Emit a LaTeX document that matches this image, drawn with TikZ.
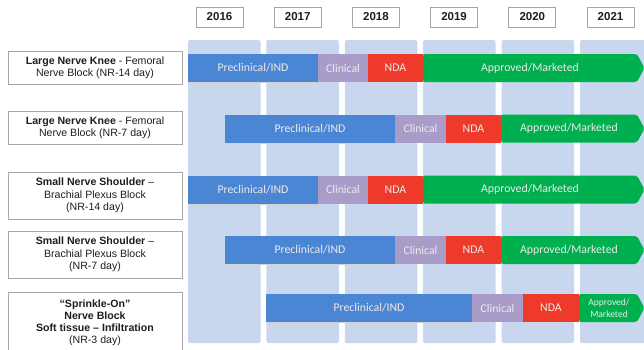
\documentclass[tikz,border=0pt]{standalone}
\usepackage{fontspec}
\setmainfont{Liberation Sans}
\newfontfamily\barfont{Carlito}
\definecolor{colbg}{HTML}{C8D7EE}
\definecolor{prebl}{HTML}{4A86D3}
\definecolor{clin}{HTML}{A99CC9}
\definecolor{nda}{HTML}{EE3A2B}
\definecolor{appr}{HTML}{00B04F}
\definecolor{boxline}{HTML}{A6A6A6}
\definecolor{labtxt}{HTML}{1E1E1E}
\begin{document}
\begin{tikzpicture}[x=1bp,y=-1bp,
  yearbox/.style={draw=boxline,line width=0.7bp,fill=white,minimum width=47bp,minimum height=20bp,inner sep=0pt,font=\fontsize{11.5bp}{13bp}\selectfont\bfseries,text=labtxt},
  labbox/.style={draw=boxline,line width=0.7bp,fill=white,inner sep=0pt,align=center,font=\fontsize{10.6bp}{12.4bp}\selectfont,text=labtxt},
  colband/.style={fill=colbg,rounded corners=1.5bp},
  bartxt/.style={inner sep=0pt,text=white!92!black,align=center,font=\barfont\fontsize{11.8bp}{13bp}\selectfont},
  shadowed/.style={preaction={fill=black!18,transform canvas={xshift=0.8bp,yshift=-1.2bp}}}
]
\useasboundingbox (0,0) rectangle (644,349);
% columns
\foreach \i in {0,...,5}{
  \fill[colband] ({188+78.4*\i},40) rectangle ({188+78.4*\i+72.5},343);
}
% year boxes
\foreach \yr [count=\i from 0] in {2016,2017,2018,2019,2020,2021}{
  \node[yearbox] (y\yr) at ({219.5+78.2*\i},17) {\yr};
}
% label boxes
\node[labbox,minimum width=174bp,minimum height=33bp] (l1) at (95,67.5)
 {\textbf{Large Nerve Knee} - Femoral\\Nerve Block (NR-14 day)};
\node[labbox,minimum width=174bp,minimum height=33bp] (l2) at (95,127.5)
 {\textbf{Large Nerve Knee} - Femoral\\Nerve Block (NR-7 day)};
\node[labbox,minimum width=174bp,minimum height=47bp] (l3) at (95,195.5)
 {\textbf{Small Nerve Shoulder} –\\Brachial Plexus Block\\(NR-14 day)};
\node[labbox,minimum width=174bp,minimum height=47bp] (l4) at (95,254.5)
 {\textbf{Small Nerve Shoulder} –\\Brachial Plexus Block\\(NR-7 day)};
\draw[draw=boxline,line width=0.7bp,fill=white] (8,352) -- (8,292) -- (182,292) -- (182,352);
\node[inner sep=0pt,align=center,font=\fontsize{10.6bp}{11.9bp}\selectfont,text=labtxt] (l5) at (95,322.5)
 {\textbf{“Sprinkle-On”}\\\textbf{Nerve Block}\\\textbf{Soft tissue – Infiltration}\\(NR-3 day)};
% bars: row, y-center, x0, x1, x2, x3
\foreach \r/\yc/\xa/\xb/\xc/\xd in {1/68/188/318/368/423, 2/128.5/225/395/446/501, 3/189.5/188/318/368/423, 4/250/225/395/446/501}{
  \fill[prebl,shadowed] (\xa,\yc-14) rectangle (\xb,\yc+14);
  \fill[clin] (\xb,\yc-14) rectangle (\xc,\yc+14);
  \fill[nda] (\xc,\yc-14) rectangle (\xd,\yc+14);
  \fill[appr,rounded corners=2bp] (\xd,\yc-14) -- (637,\yc-14) -- (644.5,\yc) -- (637,\yc+14) -- (\xd,\yc+14) -- cycle;
  \node[bartxt] (p\r) at ({(\xa+\xb)/2},\yc) {Preclinical/IND};
  \node[bartxt] (c\r) at ({(\xb+\xc)/2},\yc) {Clinical};
  \node[bartxt] (n\r) at ({(\xc+\xd)/2},\yc) {NDA};
  \node[bartxt] (a\r) at ({(\xd+637)/2},\yc) {Approved/Marketed};
}
% row 5
\fill[prebl,shadowed] (266,294) rectangle (472,322);
\fill[clin] (472,294) rectangle (523,322);
\fill[nda] (523,294) rectangle (579,322);
\fill[appr,rounded corners=2bp] (579,294) -- (637,294) -- (644.5,308) -- (637,322) -- (579,322) -- cycle;
\node[bartxt] (p5) at (369,308) {Preclinical/IND};
\node[bartxt] (c5) at (497.5,308) {Clinical};
\node[bartxt] (n5) at (551,308) {NDA};
\node[bartxt,font=\barfont\fontsize{9.5bp}{11.5bp}\selectfont] (a5) at (609,308) {Approved/\\Marketed};
\end{tikzpicture}
\end{document}
